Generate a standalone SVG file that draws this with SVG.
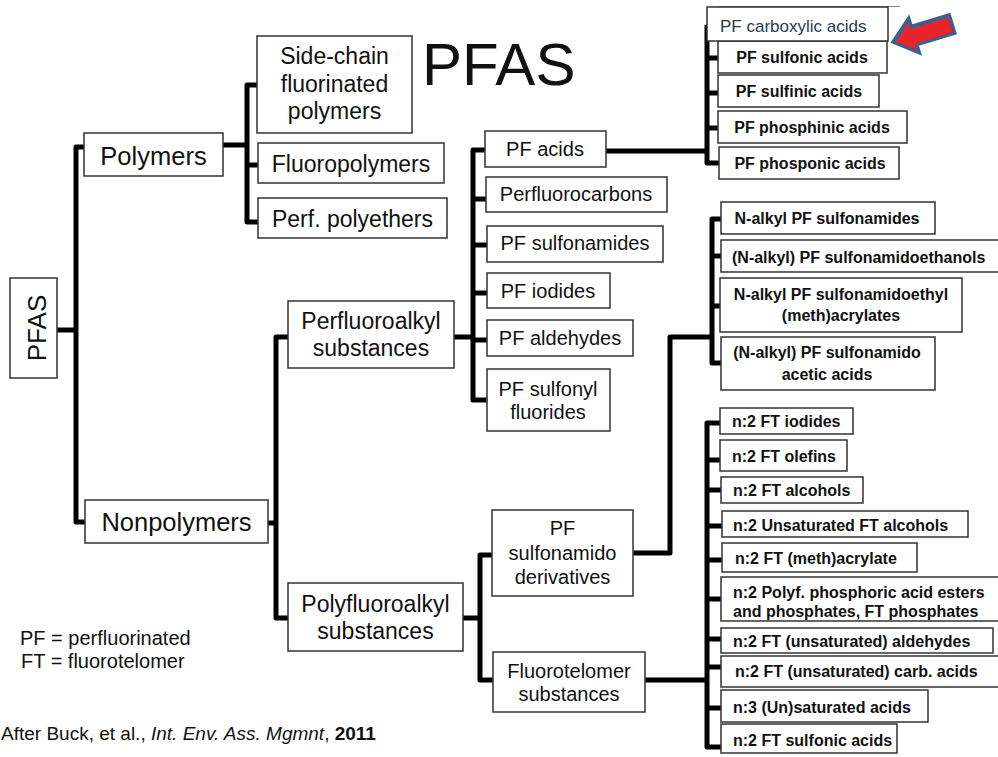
<svg xmlns="http://www.w3.org/2000/svg" width="998" height="757" viewBox="0 0 998 757">
<style>
  text { font-family: "Liberation Sans", Arial, sans-serif; fill: #111; }
  .box { fill: #fff; stroke: #333; stroke-width: 1.5; }
  .c { text-anchor: middle; }
  .l1 { font-size: 25.5px; }
  .l2 { font-size: 23px; }
  .l3 { font-size: 20px; }
  .l4 { font-size: 16px; font-weight: bold; }
  .con { fill: none; stroke: #000; stroke-width: 5; stroke-linejoin: round; }
</style>
<rect width="998" height="757" fill="#fff"/>

<g id="connectors">
  <path class="con" d="M57,330 H76" stroke-width="4"/>
  <path class="con" d="M84,147 H76 V522 H85"/>
  <path class="con" d="M223,145 H247"/>
  <path class="con" d="M257,85 H247 V222 H258 M247,165 H258"/>
  <path class="con" d="M268,523 H276"/>
  <path class="con" d="M288,337 H276 V618 H289"/>
  <path class="con" d="M454,337 H473"/>
  <path class="con" d="M485,150 H473 V400 H487 M473,199 H486 M473,245 H487 M473,293 H487 M473,340 H487"/>
  <path class="con" d="M606,151 H707"/>
  <path class="con" d="M707,25 V163 H719 M707,58 H718 M707,93 H718 M707,128 H718"/>
  <path class="con" d="M463,618 H480"/>
  <path class="con" d="M492,555 H480 V680 H493"/>
  <path class="con" d="M633,553 H670 V337 H712"/>
  <path class="con" d="M721,219 H712 V363 H721 M712,256 H721 M712,306 H720"/>
  <path class="con" d="M645,680 H707"/>
  <path class="con" d="M720,423 H707 V747 H721 M707,460 H720 M707,490 H721 M707,526 H722 M707,560 H722 M707,599 H721 M707,639 H721 M707,667 H721 M707,708 H721"/>
</g>

<g id="title">
  <text x="422" y="85" style="font-size:60px">PFAS</text>
</g>

<g id="pfas-root">
  <rect class="box" x="10" y="278" width="47" height="100"/>
  <text class="c" transform="translate(46,328) rotate(-90)" style="font-size:26px">PFAS</text>
</g>

<g id="polymers">
  <rect class="box" x="84" y="133" width="139" height="43"/>
  <text class="c l1" x="153.5" y="165">Polymers</text>
</g>
<g id="nonpolymers">
  <rect class="box" x="85" y="500" width="183" height="43"/>
  <text class="c l1" x="176.5" y="531">Nonpolymers</text>
</g>

<g id="side-chain">
  <rect class="box" x="257" y="36" width="155" height="97"/>
  <text class="c l2" x="334.5" y="64">Side-chain</text>
  <text class="c l2" x="334.5" y="92">fluorinated</text>
  <text class="c l2" x="334.5" y="119">polymers</text>
</g>
<g id="fluoropolymers">
  <rect class="box" x="258" y="143" width="186" height="40"/>
  <text class="c l2" x="351" y="172">Fluoropolymers</text>
</g>
<g id="perf-polyethers">
  <rect class="box" x="258" y="198" width="189" height="40"/>
  <text class="c l2" x="352.5" y="227">Perf. polyethers</text>
</g>

<g id="perfluoroalkyl">
  <rect class="box" x="288" y="301" width="166" height="67"/>
  <text class="c l2" x="371" y="329">Perfluoroalkyl</text>
  <text class="c l2" x="371" y="356">substances</text>
</g>
<g id="polyfluoroalkyl">
  <rect class="box" x="288" y="583" width="175" height="68"/>
  <text class="c l2" x="375.5" y="612">Polyfluoroalkyl</text>
  <text class="c l2" x="375.5" y="639">substances</text>
</g>

<g id="pf-acids">
  <rect class="box" x="485" y="131" width="121" height="36"/>
  <text class="c l3" x="545" y="156">PF acids</text>
</g>
<g id="perfluorocarbons">
  <rect class="box" x="486" y="177" width="181" height="35"/>
  <text class="c l3" x="576" y="201">Perfluorocarbons</text>
</g>
<g id="pf-sulfonamides">
  <rect class="box" x="487" y="226" width="176" height="36"/>
  <text class="c l3" x="575" y="250">PF sulfonamides</text>
</g>
<g id="pf-iodides">
  <rect class="box" x="487" y="273" width="123" height="35"/>
  <text class="c l3" x="548" y="298">PF iodides</text>
</g>
<g id="pf-aldehydes">
  <rect class="box" x="487" y="320" width="146" height="36"/>
  <text class="c l3" x="560" y="345">PF aldehydes</text>
</g>
<g id="pf-sulfonyl-fluorides">
  <rect class="box" x="487" y="369" width="123" height="62"/>
  <text class="c l3" x="548" y="396">PF sulfonyl</text>
  <text class="c l3" x="548" y="419">fluorides</text>
</g>

<g id="pf-sulfonamido-derivatives">
  <rect class="box" x="492" y="510" width="141" height="86"/>
  <text class="c l3" x="562.5" y="535">PF</text>
  <text class="c l3" x="562.5" y="560">sulfonamido</text>
  <text class="c l3" x="562.5" y="584">derivatives</text>
</g>
<g id="fluorotelomer-substances">
  <rect class="box" x="493" y="652" width="152" height="60"/>
  <text class="c l3" x="569" y="678">Fluorotelomer</text>
  <text class="c l3" x="569" y="701">substances</text>
</g>

<g id="pf-sulfonic-acids">
  <rect class="box" x="718" y="41" width="169" height="32"/>
  <text class="c l4" x="802" y="63">PF sulfonic acids</text>
</g>
<g id="pf-carboxylic-acids">
  <line x1="718" y1="6.5" x2="900" y2="6.5" stroke="#888" stroke-width="1"/>
  <rect class="box" x="707" y="7" width="181" height="34"/>
  <text x="720" y="32" style="font-size:17px;fill:#2a3850">PF carboxylic acids</text>
</g>
<g id="pf-sulfinic-acids">
  <rect class="box" x="718" y="75" width="161" height="32"/>
  <text class="c l4" x="799" y="97">PF sulfinic acids</text>
</g>
<g id="pf-phosphinic-acids">
  <rect class="box" x="718" y="111" width="189" height="32"/>
  <text class="c l4" x="812" y="133">PF phosphinic acids</text>
</g>
<g id="pf-phosponic-acids">
  <rect class="box" x="719" y="147" width="180" height="32"/>
  <text class="c l4" x="810" y="169">PF phosponic acids</text>
</g>

<g id="arrow">
  <polygon points="893,42 908.7,18.4 911.2,26.5 949.2,14.9 954.8,33.1 916.8,44.7 919.3,52.8" fill="#e8242a" stroke="#3b6190" stroke-width="3.5" stroke-linejoin="miter"/>
</g>

<g id="n-alkyl-pf-sulfonamides">
  <rect class="box" x="721" y="202" width="214" height="32"/>
  <text class="c l4" x="827" y="224">N-alkyl PF sulfonamides</text>
</g>
<g id="n-alkyl-pf-sulfonamidoethanols">
  <rect class="box" x="721" y="240" width="285" height="32"/>
  <text class="l4" x="732" y="263">(N-alkyl) PF sulfonamidoethanols</text>
</g>
<g id="n-alkyl-pf-sulfonamidoethyl-methacrylates">
  <rect class="box" x="720" y="278" width="242" height="54"/>
  <text class="c l4" x="841" y="300">N-alkyl PF sulfonamidoethyl</text>
  <text class="c l4" x="841" y="321">(meth)acrylates</text>
</g>
<g id="n-alkyl-pf-sulfonamido-acetic-acids">
  <rect class="box" x="721" y="337" width="214" height="53"/>
  <text class="c l4" x="827" y="358">(N-alkyl) PF sulfonamido</text>
  <text class="c l4" x="827" y="380">acetic acids</text>
</g>

<g id="ft-iodides">
  <rect class="box" x="720" y="408" width="133" height="26"/>
  <text class="l4" x="732" y="427">n:2 FT iodides</text>
</g>
<g id="ft-olefins">
  <rect class="box" x="720" y="440" width="127" height="31"/>
  <text class="l4" x="732" y="462">n:2 FT olefins</text>
</g>
<g id="ft-alcohols">
  <rect class="box" x="721" y="477" width="142" height="26"/>
  <text class="l4" x="733" y="496">n:2 FT alcohols</text>
</g>
<g id="unsaturated-ft-alcohols">
  <rect class="box" x="722" y="511" width="246" height="26"/>
  <text class="l4" x="733" y="531">n:2 Unsaturated FT alcohols</text>
</g>
<g id="ft-methacrylate">
  <rect class="box" x="722" y="543" width="195" height="29"/>
  <text class="l4" x="735" y="564">n:2 FT (meth)acrylate</text>
</g>
<g id="polyf-phosphoric">
  <rect class="box" x="721" y="577" width="285" height="44"/>
  <text class="l4" x="733" y="598">n:2 Polyf. phosphoric acid esters</text>
  <text class="l4" x="733" y="617">and phosphates, FT phosphates</text>
</g>
<g id="ft-unsat-aldehydes">
  <rect class="box" x="721" y="628" width="272" height="25"/>
  <text class="l4" x="733" y="647">n:2 FT (unsaturated) aldehydes</text>
</g>
<g id="ft-unsat-carb-acids">
  <rect class="box" x="721" y="656" width="285" height="31"/>
  <text class="l4" x="735" y="677">n:2 FT (unsaturated) carb. acids</text>
</g>
<g id="n3-unsaturated-acids">
  <rect class="box" x="721" y="690" width="207" height="32"/>
  <text class="l4" x="733" y="713">n:3 (Un)saturated acids</text>
</g>
<g id="ft-sulfonic-acids">
  <rect class="box" x="721" y="724" width="176" height="29"/>
  <text class="l4" x="733" y="746">n:2 FT sulfonic acids</text>
</g>

<g id="legend">
  <text x="20" y="645" style="font-size:20px">PF = perfluorinated</text>
  <text x="21" y="668" style="font-size:20px">FT = fluorotelomer</text>
  <text x="1" y="740" style="font-size:19px">After Buck, et al., <tspan font-style="italic">Int. Env. Ass. Mgmnt</tspan>, <tspan font-weight="bold">2011</tspan></text>
</g>
</svg>
